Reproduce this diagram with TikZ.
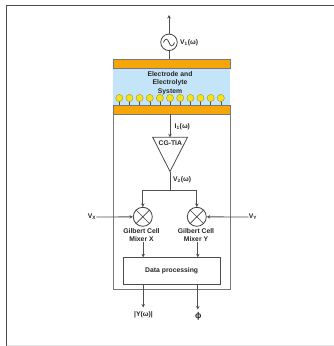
\documentclass[tikz,border=0pt]{standalone}
\usepackage{fontspec}
\setmainfont{Liberation Sans}
\usetikzlibrary{arrows.meta}
\definecolor{orng}{RGB}{247,166,10}
\definecolor{elec}{RGB}{196,228,250}
\definecolor{ball}{RGB}{245,225,30}
\definecolor{wire}{RGB}{80,80,80}
\definecolor{frameg}{RGB}{120,120,120}
\tikzset{
  lbl/.style={font=\fontsize{6.8}{8.5}\selectfont\bfseries, text=black!85, inner sep=0pt, align=center},
  wirel/.style={draw=wire, line width=0.8pt},
  arr/.style={wirel, -{Stealth[length=3.5pt,width=3.5pt]}},
  plate/.style={fill=orng, draw=frameg, line width=0.5pt},
  mixer/.style={circle, draw=black!75, line width=0.8pt, minimum size=19pt, inner sep=0pt, fill=white},
}
\begin{document}
\begin{tikzpicture}[x=1pt,y=-1pt]
\useasboundingbox (0,0) rectangle (334,346);
\fill[white] (0,0) rectangle (334,346);
% outer frame
\draw[black!70, line width=1.2pt] (6.6,346) -- (6.6,5.8) -- (334,5.8);
\draw[black!10, line width=0.5pt] (6.6,345.5) -- (334,345.5);
% inner box
\draw[frameg, line width=1pt] (113.5,105) rectangle (230,289.4);
% electrode
\node[fill=elec, minimum width=117pt, minimum height=37pt, inner sep=0pt] (elyte) at (171.5,86.5) {};
\node[plate, minimum width=117pt, minimum height=9pt, inner sep=0pt] (top) at (171.5,63.5) {};
\node[plate, minimum width=117pt, minimum height=9pt, inner sep=0pt] (bot) at (171.5,109.5) {};
\node[lbl] (etext) at (170,83) {Electrode and\\Electrolyte\\System};
\foreach \i in {0,...,10}{
  \pgfmathsetmacro{\xx}{119.3+10.15*\i}
  \draw[wire, line width=0.5pt] (\xx,98) -- (\xx,105);
  \fill[ball, draw=black!40!ball, line width=0.3pt] (\xx,98) circle (3.6pt);
}
% source
\node[circle, draw=black!75, line width=0.8pt, minimum size=16.5pt, inner sep=0pt, fill=white] (src) at (169,42.3) {};
\draw[black!75, line width=0.7pt] (163.5,42.5) .. controls (165,38) and (167.5,38) .. (169,42.5) .. controls (170.5,47) and (173,47) .. (174.5,42.5);
\node[lbl, anchor=west] (v1) at (180,42.5) {V\textsubscript{1}(ω)};
\coordinate (up) at (169,15);
\draw[arr] (src) -- (up);
\draw[wirel] (src) -- (src |- top.north);
% TIA
\coordinate (tl) at (152.7,137.3);
\coordinate (tr) at (187.5,137.3);
\coordinate (tb) at (170,171.5);
\draw[black!70, line width=0.8pt, fill=white] (tl) -- (tr) -- (tb) -- cycle;
\node[lbl] (tia) at (170.3,143) {CG-TIA};
\coordinate (tiatop) at (170,137.3);
\draw[arr] (tiatop |- bot.south) -- (tiatop);
\node[lbl, anchor=west] (i1) at (174.5,127) {I\textsubscript{1}(ω)};
\node[lbl, anchor=west] (v2) at (173,179.3) {V\textsubscript{2}(ω)};
% mixers
\node[mixer] (mx) at (142.8,216.8) {};
\node[mixer] (my) at (196.8,216.8) {};
\draw[black!75, line width=0.7pt] (mx.north west) -- (mx.south east) (mx.north east) -- (mx.south west);
\draw[black!75, line width=0.7pt] (my.north west) -- (my.south east) (my.north east) -- (my.south west);
\coordinate (split) at (170,190);
\draw[wirel] (tb) -- (split);
\draw[arr] (split) -| (mx.north);
\draw[arr] (split) -| (my.north);
\node[lbl] (vx) at (92,217) {V\textsubscript{X}};
\node[lbl] (vy) at (253,217) {V\textsubscript{Y}};
\draw[arr] (vx) -- (mx);
\draw[arr] (vy) -- (my);
\node[lbl] (lx) at (141.5,235) {Gilbert Cell\\Mixer X};
\node[lbl] (ly) at (196,235) {Gilbert Cell\\Mixer Y};
% data
\node[draw=black!70, line width=0.8pt, fill=white, minimum width=97pt, minimum height=27pt, inner sep=0pt, font=\fontsize{6.8}{8}\selectfont\bfseries, text=black!85] (dp) at (171.7,270.8) {Data processing};
\coordinate (ax) at (143.2,257.3);
\coordinate (ay) at (197.8,257.3);
\draw[arr] (ax |- lx.south) -- (ax);
\draw[arr] (ay |- ly.south) -- (ay);
\node[lbl] (y) at (143.5,314.3) {|Y(ω)|};
\node[lbl, font=\fontsize{8.5}{9}\selectfont\bfseries] (phi) at (198.3,316.5) {ϕ};
\coordinate (bx) at (143.2,284.3);
\coordinate (by) at (197.8,284.3);
\draw[arr] (bx) -- (143.2,307.5);
\draw[arr] (by) -- (197.8,309.5);
\end{tikzpicture}
\end{document}
